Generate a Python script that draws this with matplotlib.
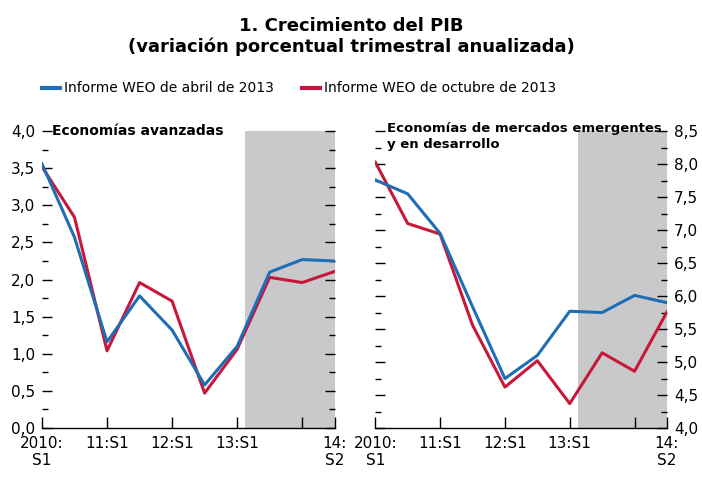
import matplotlib.pyplot as plt
from matplotlib.lines import Line2D
from matplotlib.ticker import MultipleLocator, FuncFormatter

plt.rcParams['font.family'] = ['DejaVu Sans']

periods = ['2010:S1', '2010:S2', '11:S1', '11:S2', '12:S1', '12:S2',
           '13:S1', '13:S2', '14:S1', '14:S2']
tick_labels = ['2010:\nS1', '11:S1', '12:S1', '13:S1', '', '14:\nS2']
tick_pos = [0, 2, 4, 6, 8, 9]

adv_april = [3.56, 2.57, 1.16, 1.78, 1.32, 0.58, 1.10, 2.10, 2.27, 2.25]
adv_oct = [3.52, 2.84, 1.04, 1.96, 1.71, 0.47, 1.06, 2.03, 1.96, 2.11]
em_april = [7.76, 7.55, 6.95, 5.84, 4.75, 5.10, 5.77, 5.75, 6.01, 5.90]
em_oct = [8.03, 7.10, 6.94, 5.56, 4.62, 5.02, 4.37, 5.14, 4.86, 5.76]

blue = '#1f6db5'
red = '#c8183a'
shade = '#c9c9cb'
x = list(range(len(periods)))

fig = plt.figure(figsize=(7.02, 4.78), dpi=100)
ax1 = fig.add_axes([0.0598, 0.1046, 0.417, 0.621])
ax2 = fig.add_axes([0.5346, 0.1046, 0.4155, 0.621])

comma = FuncFormatter(lambda v, p: f'{v:.1f}'.replace('.', ','))

for ax, a, o, lo, hi in [(ax1, adv_april, adv_oct, 0.0, 4.0),
                         (ax2, em_april, em_oct, 4.0, 8.5)]:
    ax.axvspan(6.25, 9, color=shade, lw=0, zorder=0)
    ax.plot(x, o, color=red, lw=2.2, zorder=3)
    ax.plot(x, a, color=blue, lw=2.2, zorder=4)
    ax.set_xlim(0, 9)
    ax.set_ylim(lo, hi)
    for s in ['left', 'right', 'top']:
        ax.spines[s].set_visible(False)
    ax.spines['bottom'].set_linewidth(1.0)
    ax.set_xticks(tick_pos)
    ax.set_xticklabels(tick_labels, fontsize=11, va='top', linespacing=1.15)
    ax.tick_params(axis='x', direction='in', length=8, width=1.0, pad=6)
    ax.yaxis.set_major_locator(MultipleLocator(0.5))
    ax.yaxis.set_minor_locator(MultipleLocator(0.25))
    ax.yaxis.set_major_formatter(comma)
    ax.tick_params(axis='y', which='major', direction='in', length=7, width=1.0,
                   left=True, right=True, labelsize=11)
    ax.tick_params(axis='y', which='minor', direction='in', length=4, width=1.0,
                   left=True, right=True)

ax1.tick_params(axis='y', labelleft=True, labelright=False, pad=5)
ax2.tick_params(axis='y', labelleft=False, labelright=True, pad=5)

ax1.text(0.035, 1.0, 'Economías avanzadas', transform=ax1.transAxes,
         fontsize=10, fontweight='bold', va='center', ha='left', zorder=5)
ax2.text(0.04, 1.03, 'Economías de mercados emergentes\ny en desarrollo',
         transform=ax2.transAxes, fontsize=9.5, fontweight='bold', va='top',
         ha='left', linespacing=1.25, zorder=5)

fig.text(0.5, 0.965, '1. Crecimiento del PIB\n(variación porcentual trimestral anualizada)',
         ha='center', va='top', fontsize=13, fontweight='bold', linespacing=1.2)

fig.legend(handles=[Line2D([0], [0], color=blue, lw=3,
                           label='Informe WEO de abril de 2013')],
           loc='center left', bbox_to_anchor=(0.06, 0.815), frameon=False,
           fontsize=10, handlelength=1.3, handletextpad=0.3, borderpad=0,
           borderaxespad=0)
fig.legend(handles=[Line2D([0], [0], color=red, lw=3,
                           label='Informe WEO de octubre de 2013')],
           loc='center left', bbox_to_anchor=(0.43, 0.815), frameon=False,
           fontsize=10, handlelength=1.3, handletextpad=0.3, borderpad=0,
           borderaxespad=0)

fig.savefig('out.png', dpi=100)
